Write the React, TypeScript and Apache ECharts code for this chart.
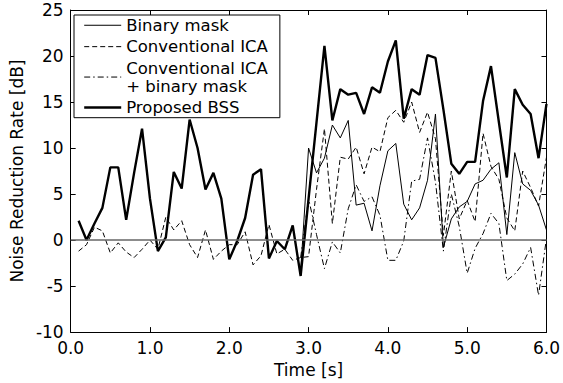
import React, { useEffect, useRef } from "react";
import * as echarts from "echarts";

const times = [
  0.1, 0.2, 0.3, 0.4, 0.5, 0.6, 0.7, 0.8, 0.9, 1.0,
  1.1, 1.2, 1.3, 1.4, 1.5, 1.6, 1.7, 1.8, 1.9, 2.0,
  2.1, 2.2, 2.3, 2.4, 2.5, 2.6, 2.7, 2.8, 2.9, 3.0,
  3.1, 3.2, 3.3, 3.4, 3.5, 3.6, 3.7, 3.8, 3.9, 4.0,
  4.1, 4.2, 4.3, 4.4, 4.5, 4.6, 4.7, 4.8, 4.9, 5.0,
  5.1, 5.2, 5.3, 5.4, 5.5, 5.6, 5.7, 5.8, 5.9, 6.0,
];

const binaryMask = [
  null, null, null, null, null, null, null, null, null, null,
  null, null, null, null, null, null, null, null, null, null,
  null, null, null, null, null, null, null, null, -3.4, 10.0,
  7.3, 8.9, 12.5, 11.1, 13.0, 3.8, 4.0, 1.0, 5.9, 9.7,
  10.5, 3.9, 2.2, 3.5, 6.5, 13.7, -0.8, 2.3, 3.6, 4.2,
  6.1, 6.5, 7.7, 8.4, 0.6, 9.5, 6.1, 5.4, 3.8, 1.1,
];

const conventionalICA = [
  -1.2, -0.5, 1.4, 1.0, -1.4, -0.3, -1.3, -1.9, -1.0, 0.0,
  -1.0, 2.5, 1.1, 2.1, -0.5, -1.9, 1.1, -2.1, -1.2, -0.5,
  -0.5, 0.9, -2.7, -1.7, 1.7, -1.5, -1.0, -2.2, -1.9, -1.8,
  5.5, 12.1, 1.8, 9.0, 8.8, 10.1, 7.2, 10.1, 9.6, 13.3,
  14.1, 12.8, 15.0, 11.7, 13.9, 11.0, 0.5, 7.5, 2.3, 4.3,
  2.0, 11.6, 8.0, 6.6, 2.4, 1.0, 7.5, 5.7, 3.7, 9.0,
];

const icaPlusMask = [
  null, null, null, null, null, null, null, null, null, null,
  null, null, null, null, null, null, null, null, null, null,
  null, null, null, null, null, null, null, null, -1.9, 4.5,
  0.6, -3.1, -0.2, -1.4, 3.4, 6.0, 4.2, 4.7, 2.7, -2.2,
  -2.2, -0.1, 6.4, 6.6, 11.1, 6.3, -1.2, 5.0, 1.5, -3.6,
  -0.9, 0.7, 2.9, 1.8, -4.4, -3.7, -2.6, -0.8, -6.0, 0.2,
];

const proposedBSS = [
  2.1, 0.0, 1.8, 3.5, 7.9, 7.9, 2.2, 7.3, 12.1, 4.5,
  -1.2, 0.3, 7.4, 5.6, 13.1, 10.0, 5.5, 7.3, 4.5, -2.1,
  -0.1, 2.4, 7.1, 7.7, -2.0, -0.1, -1.0, 1.6, -3.9, 4.5,
  12.8, 21.1, 13.0, 16.4, 15.8, 16.0, 13.7, 16.6, 16.0, 19.4,
  21.7, 13.2, 16.4, 15.8, 20.1, 19.8, 14.2, 8.3, 7.2, 8.5,
  8.5, 15.1, 18.9, 12.8, 6.8, 16.4, 14.7, 13.7, 8.9, 14.8,
];

const seriesNames = [
  "Binary mask",
  "Conventional ICA",
  "Conventional ICA\n+ binary mask",
  "Proposed BSS",
];

const xAxisName = "Time [s]";
const yAxisName = "Noise Reduction Rate [dB]";

const FONT = "DejaVu Sans";

const styles: { width: number; type: any }[] = [
  { width: 1, type: "solid" },
  { width: 1, type: [5, 3] },
  { width: 1, type: [6, 3, 1.5, 3] },
  { width: 2.4, type: "solid" },
];

function pairs(vals: (number | null)[]) {
  return times.map((t, i) => [t, vals[i]]);
}

export default function App() {
  const ref = useRef<HTMLDivElement>(null);
  useEffect(() => {
    if (!ref.current) return;
    const chart = echarts.init(ref.current, null, { renderer: "svg" });
    const axisCommon = {
      axisLine: { show: true, onZero: false, lineStyle: { color: "#000", width: 1 } },
      axisTick: { show: true, inside: true, length: 5, lineStyle: { color: "#000", width: 1 } },
      splitLine: { show: false },
    };
    const base = (i: number, vals: (number | null)[]) => ({
      name: seriesNames[i],
      type: "line",
      data: pairs(vals),
      symbol: "none",
      showSymbol: false,
      connectNulls: false,
      lineStyle: { color: "#000", width: styles[i].width, type: styles[i].type },
      itemStyle: { color: "#000" },
      emphasis: { disabled: true },
    });
    const s4: any = base(3, proposedBSS);
    s4.markLine = {
      silent: true,
      symbol: "none",
      label: { show: false },
      lineStyle: { color: "#666", width: 1.6, type: "solid" },
      data: [{ yAxis: 0 }],
    };
    chart.setOption({
      animation: false,
      grid: { left: 62, right: 12, top: 10, bottom: 43, containLabel: false },
      legend: {
        show: true,
        orient: "vertical",
        left: 74,
        top: 15,
        data: seriesNames.map((n, i) => ({
          name: n,
          lineStyle: { width: styles[i].width, type: styles[i].type, color: "#000" },
        })),
        selectedMode: false,
        backgroundColor: "#fff",
        borderColor: "#000",
        borderWidth: 1,
        borderRadius: 0,
        padding: [1.25, 12, 1.25, 9],
        itemGap: 3.4,
        itemWidth: 37,
        itemHeight: 14,
        itemStyle: { opacity: 0, borderWidth: 0 },
        textStyle: { fontFamily: FONT, fontSize: 16.5, color: "#000", lineHeight: 18 },
      },
      xAxis: [
        {
          type: "value",
          min: 0,
          max: 6,
          interval: 1,
          position: "bottom",
          ...axisCommon,
          axisLabel: {
            color: "#000",
            fontFamily: FONT,
            fontSize: 17,
            margin: 7,
            formatter: (v: number) => v.toFixed(1),
          },
          name: xAxisName,
          nameLocation: "middle",
          nameGap: 24,
          nameTextStyle: { color: "#000", fontFamily: FONT, fontSize: 17 },
        },
        {
          type: "value",
          min: 0,
          max: 6,
          interval: 1,
          position: "top",
          ...axisCommon,
          axisLabel: { show: false },
        },
      ],
      yAxis: [
        {
          type: "value",
          min: -10,
          max: 25,
          interval: 5,
          position: "left",
          ...axisCommon,
          axisLabel: { color: "#000", fontFamily: FONT, fontSize: 17, margin: 7 },
          name: yAxisName,
          nameLocation: "middle",
          nameRotate: 90,
          nameGap: 36,
          nameTextStyle: { color: "#000", fontFamily: FONT, fontSize: 17 },
        },
        {
          type: "value",
          min: -10,
          max: 25,
          interval: 5,
          position: "right",
          ...axisCommon,
          axisLabel: { show: false },
        },
      ],
      series: [
        base(0, binaryMask),
        base(1, conventionalICA),
        base(2, icaPlusMask),
        s4,
      ],
    });
    return () => chart.dispose();
  }, []);
  return (
    <div
      ref={ref}
      style={{ position: "fixed", left: 0, top: 0, width: 563, height: 383, background: "#fff" }}
    />
  );
}
